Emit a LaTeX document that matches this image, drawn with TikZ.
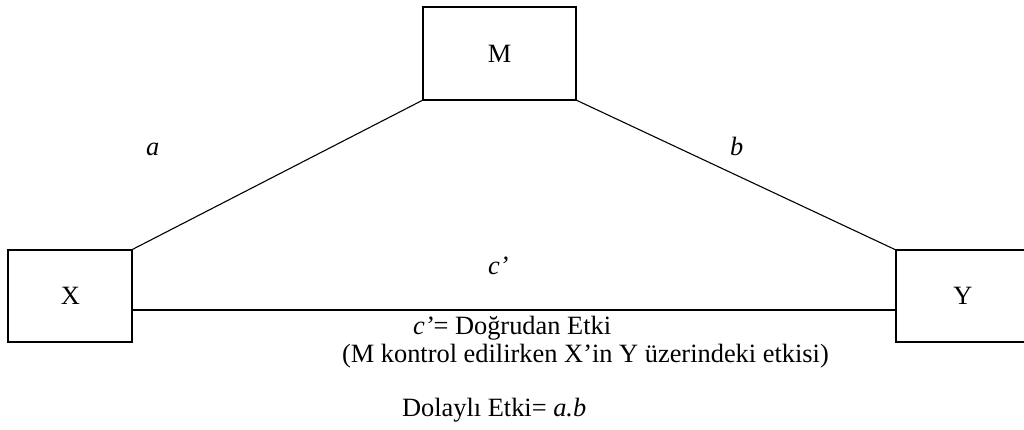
\documentclass[tikz,border=0pt]{standalone}
\usepackage{fontspec}
\setmainfont{Liberation Serif}
\begin{document}
\begin{tikzpicture}[x=1pt,y=-1pt,
  every node/.style={font=\fontsize{26.4}{30}\selectfont, inner sep=0pt, outer sep=0pt},
  varbox/.style={draw=black, line width=2pt, rectangle},
  path/.style={draw=black, line width=1.1pt},
  direct/.style={draw=black, line width=2pt},
  lbl/.style={anchor=base west}]
\useasboundingbox (0,0) rectangle (1024,429);
\clip (0,0) rectangle (1024,429);

% variables
\node[varbox, minimum width=153pt, minimum height=93pt] (M) at (499.5,53.5) {M};
\node[varbox, minimum width=124pt, minimum height=92pt] (X) at (70.3,295.5) {X};
\node[varbox, minimum width=134pt, minimum height=92pt] (Y) at (963,296) {Y};

% paths
\draw[path] (M.south west) -- (X.north east);
\draw[path] (M.south east) -- (Y.north west);
\coordinate (xr) at (X.east |- 0,310);
\coordinate (yl) at (Y.west |- 0,310);
\draw[direct] (xr) -- (yl);

% path labels
\node[lbl] (la) at (146,155) {\textit{a}};
\node[lbl] (lb) at (730,155) {\textit{b}};
\node[lbl] (lc) at (488,274) {\textit{c’}};

% notes
\node[lbl] (n1) at (413,334) {\textit{c’}= Doğrudan Etki};
\node[lbl] (n2) at (342,362) {(M kontrol edilirken X’in Y üzerindeki etkisi)};
\node[lbl] (n3) at (402,416) {Dolaylı Etki= \textit{a.b}};
\end{tikzpicture}
\end{document}
